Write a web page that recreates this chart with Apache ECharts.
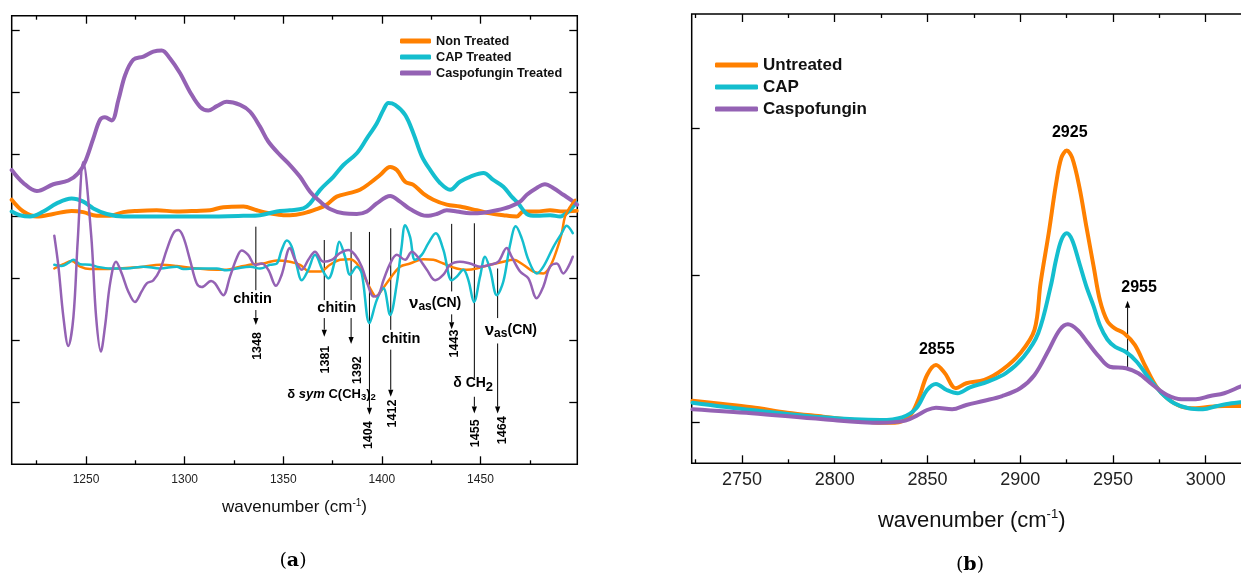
<!DOCTYPE html>
<html><head><meta charset="utf-8">
<script src="https://cdn.jsdelivr.net/npm/echarts@6/dist/echarts.min.js"></script>
<style>html,body{margin:0;padding:0;background:#fff}#c{width:1241px;height:576px}</style>
</head><body><div id="c"></div>
<script>
// ---------- Panel (a) data : wavenumber (cm-1) / absorbance (a.u.) ----------
const aTicksMajor = [1250, 1300, 1350, 1400, 1450];
const aTicksMinor = [1225, 1275, 1325, 1375, 1425, 1475];
const aYTicks = [1, 2, 3, 4, 5, 6, 7];

const aNonTreatedWn = [1212.3,1218.2,1225,1233.4,1242.7,1248.6,1255.4,1262.2,1268.9,1275.7,1285.8,1296,1306.1,1312.9,1319.6,1329.8,1336.6,1343.3,1350.1,1353.4,1360.2,1367,1372,1377.1,1383.9,1388.9,1394,1399.1,1404.2,1407.6,1411.8,1416,1421,1426.1,1432.9,1439.6,1448.1,1454.9,1461.6,1468.4,1471.7,1478.5,1485.3,1492,1498.8];
const aNonTreatedVal = [4.27,4.08,4.00,4.04,4.09,4.07,4.01,4.01,4.07,4.09,4.10,4.08,4.09,4.10,4.15,4.16,4.10,4.05,4.02,4.02,4.05,4.12,4.19,4.32,4.38,4.43,4.54,4.67,4.80,4.75,4.56,4.51,4.37,4.27,4.19,4.16,4.10,4.05,4.02,4.00,4.08,4.08,4.10,4.08,4.09];

const aCapWn = [1212.3,1216.5,1221.6,1228.3,1235.1,1242.7,1248.6,1253.7,1260.5,1268.9,1290,1310,1329.8,1338.2,1346.7,1353.4,1360.2,1363.6,1368.7,1375.4,1380.5,1387.3,1392.4,1397.4,1400.8,1403.3,1406.7,1411.8,1416,1420.3,1424.5,1429.5,1434.6,1439.6,1444.7,1451.5,1456.5,1461.6,1465.8,1469.2,1473.5,1478.5,1485.3,1490.4,1494.6,1498.5];
const aCapVal = [4.08,4.02,4.00,4.08,4.21,4.29,4.24,4.13,4.04,4.00,4.00,4.00,4.01,4.02,4.08,4.10,4.13,4.21,4.43,4.64,4.83,5.02,5.26,5.50,5.72,5.83,5.80,5.64,5.34,4.97,4.75,4.54,4.43,4.56,4.64,4.70,4.59,4.48,4.32,4.21,4.04,4.01,4.02,4.00,4.08,4.22];

const aCaspoWn = [1212.3,1218.2,1225,1233.4,1241,1246.1,1249.5,1253.7,1257.1,1259.6,1263,1266.4,1269.8,1274,1279.1,1284.1,1288.4,1292.6,1297.7,1302.7,1307.8,1312,1316.3,1321.3,1328.1,1333.2,1338.2,1342.4,1348.4,1353.4,1358.5,1363.6,1368.7,1373.7,1380.5,1387.3,1392.4,1397.4,1404.2,1409.2,1414.3,1422.8,1427.8,1432.9,1438,1444.7,1451.5,1458.3,1465,1470.1,1473.5,1478.5,1482.7,1486.9,1492,1496.2,1499];
const aCaspoVal = [4.75,4.54,4.41,4.52,4.58,4.70,4.88,5.26,5.56,5.60,5.55,5.88,6.28,6.53,6.58,6.66,6.68,6.55,6.31,6.01,5.77,5.71,5.78,5.85,5.80,5.69,5.45,5.21,4.99,4.83,4.64,4.40,4.24,4.12,4.05,4.04,4.08,4.21,4.33,4.24,4.12,4.01,4.04,4.10,4.08,4.05,4.06,4.10,4.16,4.24,4.35,4.46,4.52,4.46,4.35,4.26,4.19];

// second-derivative traces (lower group)
const aNonTreatedD2Wn = [1233.9,1238.5,1242.7,1247,1252,1258.8,1265.6,1279.1,1287.5,1296,1306.1,1316.3,1321.3,1328.1,1334.8,1339.9,1346.7,1353.4,1358.5,1363.6,1368.7,1373.7,1378.8,1383.9,1387.3,1390.6,1394.9,1397,1399.9,1404.2,1409.2,1414.3,1421,1426.1,1431.2,1438,1443,1448.1,1454.9,1461.6,1466.7,1471.7,1476.8,1481.9,1485.3,1488.7,1491.2,1492.9,1495.5,1498];
const aNonTreatedD2Val = [3.16,3.23,3.28,3.19,3.15,3.15,3.16,3.19,3.22,3.20,3.16,3.14,3.14,3.19,3.23,3.24,3.29,3.27,3.22,3.11,3.11,3.22,3.30,3.31,3.24,3.06,2.79,2.71,2.81,3.00,3.19,3.24,3.31,3.30,3.24,3.16,3.14,3.16,3.22,3.27,3.30,3.22,3.11,3.08,3.19,3.46,3.73,4.00,4.16,4.27];

const aCapD2Wn = [1233.9,1237.7,1241,1243.6,1247,1252,1255.4,1262.2,1270.6,1279.1,1287.5,1296,1299.3,1306.1,1316.3,1321.3,1326.4,1333.2,1338.2,1343.3,1346.7,1349.2,1351.8,1354.3,1356.5,1359.4,1362.7,1366.1,1370.3,1372.9,1376.3,1378.4,1381.3,1383.9,1387.3,1389.8,1393.7,1397.4,1400.8,1404.2,1407.6,1410,1411.8,1414.3,1416.8,1420.2,1423.6,1427.3,1431.2,1435.4,1438,1441.3,1443.9,1446.7,1449.8,1452.3,1454.9,1458.3,1461.6,1465,1467.9,1470.9,1474.3,1478.5,1481.9,1487,1491.2,1493.7,1496.8];
const aCapD2Val = [3.22,3.20,3.25,3.30,3.23,3.22,3.19,3.16,3.16,3.19,3.16,3.19,3.15,3.16,3.16,3.13,3.16,3.19,3.16,3.22,3.24,3.46,3.61,3.51,3.25,2.97,3.14,3.38,3.11,3.00,3.30,3.59,3.35,3.06,3.19,3.08,2.28,2.65,2.84,2.41,2.92,3.51,3.86,3.67,3.30,3.38,3.57,3.73,3.46,2.97,3.03,3.14,2.97,2.62,3.03,3.35,3.14,2.73,2.95,3.54,3.84,3.65,3.30,3.08,3.19,3.51,3.73,3.85,3.73];

const aCaspoD2Wn = [1233.9,1236,1238.5,1241,1243.6,1245.8,1248.6,1252.6,1255.1,1257.5,1259.6,1262.2,1265.2,1268.1,1271.4,1274.8,1278.2,1280.8,1284.1,1287.5,1290.9,1294.3,1296.8,1299.3,1302.7,1306.1,1308.7,1313.4,1315.4,1319.6,1323,1326.4,1328.9,1332.2,1335.7,1339.1,1342.4,1346.3,1349.2,1353.4,1356,1359.4,1362.7,1366.1,1370.3,1374.6,1378.8,1383,1386.4,1389.8,1393.2,1395.7,1398.2,1400.8,1404.2,1407.6,1411.8,1415.2,1418.6,1422.8,1427,1431.2,1434.6,1439.6,1444.7,1449.8,1454.9,1459.1,1463.3,1465.8,1470.1,1474.3,1478.5,1481.9,1485.3,1488.7,1492,1494.6,1496.8];
const aCaspoD2Val = [3.69,3.19,2.38,1.91,2.38,3.62,4.88,3.70,2.38,1.82,2.22,2.92,3.27,3.08,2.79,2.62,2.79,2.92,2.97,3.14,3.46,3.73,3.78,3.67,3.30,2.92,2.86,2.96,2.92,2.73,3.03,3.33,3.45,3.38,3.22,3.24,3.14,2.88,3.06,3.49,3.30,3.14,3.30,3.43,3.27,3.30,3.41,3.46,3.38,3.19,2.87,2.71,2.73,2.97,3.24,3.38,3.30,3.43,3.33,3.14,2.97,3.06,3.22,3.27,3.24,3.19,3.22,3.27,3.49,3.35,3.11,3.00,2.68,2.87,3.19,3.24,3.08,3.19,3.35];

// annotation content for panel (a): [wavenumber, value from, value to]
const aGuideLines = [[1336.1,3.835,2.81],[1370.8,3.62,2.65],[1384.4,3.75,2.65],[1404.5,3.81,2.17],[1435.4,3.88,2.79],[1446.9,3.89,1.39],[1458.7,3.16,2.36]];
const aArrows = [[1336.1,2.49,2.25],[1370.8,2.36,2.06],[1384.4,2.36,1.94],[1393.7,3.75,0.80],[1404.5,1.85,1.09],[1435.4,2.42,2.18],[1446.9,1.09,0.82],[1458.7,1.95,0.82]];
const aBandLabels = [['1348',1336.9,1.91],['1381',1371.4,1.69],['1392',1387.9,1.52],['1404',1393.3,0.47],['1412',1405.4,0.82],['1443',1436.8,1.95],['1455',1447.5,0.50],['1464',1461.3,0.55]];
const aAssignLabels = [['chitin',1334.4,2.67],['chitin',1377.1,2.53],['chitin',1409.7,2.02],['nuCN',1427,2.60],['nuCN',1465.4,2.16],['dCH2',1446.3,1.31],['dsym',1374.5,1.13]];

// ---------- Panel (b) data ----------
const bTicksMajor = [2750, 2800, 2850, 2900, 2950, 3000];
const bTicksMinor = [2725, 2775, 2825, 2875, 2925, 2975, 3025];
const bYTicks = [0, 1, 2];

const bUntreatedWn = [2723.3,2735.9,2755.2,2774.5,2793.8,2813.1,2824.7,2832.4,2840.1,2845,2849.8,2854.6,2859.4,2865.3,2871,2880.7,2890.3,2900,2907.7,2911,2915.4,2919.3,2922.2,2925.1,2928,2931.9,2935.7,2939.6,2943,2947,2951,2956,2961.8,2967.6,2973.4,2979.2,2986.9,2994.6,3002.4,3010,3017.8,3024];
const bUntreatedVal = [0.149,0.132,0.105,0.068,0.041,0.014,0.0,0.0,0.041,0.154,0.324,0.392,0.336,0.234,0.268,0.29,0.358,0.471,0.63,0.95,1.29,1.62,1.80,1.848,1.80,1.60,1.33,1.06,0.83,0.69,0.64,0.607,0.528,0.38,0.245,0.166,0.109,0.098,0.109,0.113,0.113,0.115];

const bCapWn = [2723.3,2755.2,2793.8,2824.7,2836.3,2844,2849.8,2854.6,2860.4,2866.2,2872.9,2882.6,2892.3,2901.9,2909.7,2916.4,2919.3,2922.2,2925.1,2928,2931.9,2935.7,2939.6,2943,2947,2951.2,2957,2962.8,2969.5,2976.3,2983,2990.7,2998.5,3006.2,3013.9,3018.7,3024];
const bCapVal = [0.136,0.086,0.036,0.018,0.036,0.098,0.222,0.263,0.222,0.2,0.24,0.279,0.336,0.448,0.607,0.924,1.105,1.241,1.287,1.241,1.083,0.924,0.79,0.66,0.565,0.515,0.48,0.414,0.301,0.2,0.132,0.098,0.091,0.113,0.132,0.139,0.145];

const bCaspoWn = [2723.3,2755.2,2793.8,2824.7,2838.2,2844,2849.8,2854.6,2863.3,2871,2880.7,2890.3,2900,2907.7,2915.4,2921.3,2925.7,2930.9,2936.7,2942.5,2948.3,2957,2963.7,2971.5,2979.2,2986.9,2994.6,3002.4,3010,3018.7,3024];
const bCaspoVal = [0.091,0.064,0.023,0.0,0.014,0.046,0.086,0.102,0.091,0.12,0.149,0.181,0.234,0.324,0.494,0.63,0.668,0.63,0.539,0.448,0.38,0.37,0.336,0.256,0.188,0.159,0.159,0.181,0.2,0.245,0.27];

const bPeakLabels = [['2925',2926.7,1.973],['2855',2855,0.499],['2955',2964.1,0.92]];
const bArrows = [[2957.9,0.37,0.829]];

// ---------- chart ----------
const FONT = '"Liberation Sans", Arial, sans-serif';
const C_OR = '#FF8000', C_CY = '#14BECE', C_PU = '#9462B4';
const zip = (xs, ys) => xs.map((x, i) => [x, ys[i]]);
const chart = echarts.init(document.getElementById('c'), null, {renderer: 'canvas'});

function xAx(grid, pos, vals, len, labels, min, max, fs, lm) {
  return {
    type: 'value', gridIndex: grid, position: pos, min: min, max: max,
    axisLine: {show: false, onZero: false},
    splitLine: {show: false},
    axisTick: {show: true, inside: true, length: len, customValues: vals, lineStyle: {color: '#000', width: 1.3}},
    axisLabel: labels ? {show: true, customValues: vals, fontFamily: FONT, fontSize: fs, color: '#222', margin: lm,
      formatter: (v) => String(Math.round(v))} : {show: false}
  };
}
function yAx(grid, pos, vals, min, max) {
  return {
    type: 'value', gridIndex: grid, position: pos, min: min, max: max,
    axisLine: {show: false, onZero: false}, splitLine: {show: false},
    axisTick: {show: true, inside: true, length: 8, customValues: vals, lineStyle: {color: '#000', width: 1.3}},
    axisLabel: {show: false}
  };
}
const aMin = 1212.3, aMax = 1499.1, bMin = 2722.9, bMax = 3024.8;
const xAxes = [
  xAx(0, 'bottom', aTicksMajor, 8, true, aMin, aMax, 12, 9),
  xAx(0, 'bottom', aTicksMinor, 4, false, aMin, aMax),
  xAx(0, 'top', aTicksMajor, 8, false, aMin, aMax),
  xAx(0, 'top', aTicksMinor, 4, false, aMin, aMax),
  xAx(1, 'bottom', bTicksMajor, 8, true, bMin, bMax, 18, 8),
  xAx(1, 'bottom', bTicksMinor, 4, false, bMin, bMax),
  xAx(1, 'top', bTicksMajor, 8, false, bMin, bMax),
  xAx(1, 'top', bTicksMinor, 4, false, bMin, bMax)
];
const titleRich = (fs) => ({
  a: {fontFamily: FONT, fontSize: fs, color: '#111'},
  s: {fontFamily: FONT, fontSize: Math.round(fs * 0.6), color: '#111', padding: [0, 0, Math.round(fs * 0.55), 0]}
});
xAxes[0].name = '{a|wavenumber (cm}{s|-1}{a|)}';
xAxes[0].nameLocation = 'middle'; xAxes[0].nameGap = 34;
xAxes[0].nameTextStyle = {rich: titleRich(17)};
xAxes[4].name = '{a|wavenumber (cm}{s|-1}{a|)}';
xAxes[4].nameLocation = 'middle'; xAxes[4].nameGap = 45;
xAxes[4].nameTextStyle = {rich: titleRich(22)};

const yAxes = [
  yAx(0, 'left', aYTicks, 0, 7.24),
  yAx(0, 'right', aYTicks, 0, 7.24),
  yAx(1, 'left', bYTicks, -0.276, 2.776)
];

function line(name, data, color, width, xi, yi) {
  return {type: 'line', name: name, data: data, xAxisIndex: xi, yAxisIndex: yi,
    showSymbol: false, symbol: 'none', smooth: 0.35, color: color,
    lineStyle: {color: color, width: width, cap: 'round', join: 'round'}, silent: true, animation: false};
}
const series = [
  line('Non Treated', zip(aNonTreatedWn, aNonTreatedVal), C_OR, 4, 0, 0),
  line('CAP Treated', zip(aCapWn, aCapVal), C_CY, 4, 0, 0),
  line('Caspofungin Treated', zip(aCaspoWn, aCaspoVal), C_PU, 4, 0, 0),
  line('Non Treated 2nd der.', zip(aNonTreatedD2Wn, aNonTreatedD2Val), C_OR, 2.5, 0, 0),
  line('CAP Treated 2nd der.', zip(aCapD2Wn, aCapD2Val), C_CY, 2.5, 0, 0),
  line('Caspofungin Treated 2nd der.', zip(aCaspoD2Wn, aCaspoD2Val), C_PU, 2.5, 0, 0),
  line('Untreated', zip(bUntreatedWn, bUntreatedVal), C_OR, 4, 4, 2),
  line('CAP', zip(bCapWn, bCapVal), C_CY, 4, 4, 2),
  line('Caspofungin', zip(bCaspoWn, bCaspoVal), C_PU, 4, 4, 2)
];

chart.setOption({
  animation: false,
  backgroundColor: '#fff',
  grid: [
    {left: 11.7, top: 15.7, width: 565.6, height: 448.6, show: true, borderColor: '#000', borderWidth: 1.5, backgroundColor: 'transparent', containLabel: false, outerBoundsMode: 'none'},
    {left: 691.7, top: 14, width: 560, height: 449.3, show: true, borderColor: '#000', borderWidth: 1.5, backgroundColor: 'transparent', containLabel: false, outerBoundsMode: 'none'}
  ],
  xAxis: xAxes,
  yAxis: yAxes,
  legend: [
    {data: ['Non Treated', 'CAP Treated', 'Caspofungin Treated'], orient: 'vertical', left: 395, top: 29,
      itemWidth: 31, itemHeight: 5, itemGap: 2, icon: 'roundRect', selectedMode: false,
      textStyle: {fontFamily: FONT, fontSize: 12.7, fontWeight: 'bold', color: '#111', lineHeight: 14}},
    {data: ['Untreated', 'CAP', 'Caspofungin'], orient: 'vertical', left: 710, top: 50,
      itemWidth: 43, itemHeight: 5, itemGap: 2, icon: 'roundRect', selectedMode: false,
      textStyle: {fontFamily: FONT, fontSize: 17, fontWeight: 'bold', color: '#111', lineHeight: 20}}
  ],
  series: series
});

// ---------- annotations, positioned through the axes ----------
const FA = {xAxisIndex: 0, yAxisIndex: 0};
const FB = {xAxisIndex: 4, yAxisIndex: 2};
const els = [];
function seg(f, wn, v1, v2, head) {
  const p1 = chart.convertToPixel(f, [wn, v1]);
  const p2 = chart.convertToPixel(f, [wn, v2]);
  const dir = p2[1] > p1[1] ? 1 : -1;
  const hl = 7, hw = 2.6;
  const endY = head ? p2[1] - dir * hl : p2[1];
  els.push({type: 'line', silent: true, shape: {x1: p1[0], y1: p1[1], x2: p2[0], y2: endY}, style: {stroke: '#000', lineWidth: 1}});
  if (head) {
    els.push({type: 'polygon', silent: true, shape: {points: [[p2[0], p2[1]], [p2[0] - hw, p2[1] - dir * hl], [p2[0] + hw, p2[1] - dir * hl]]}, style: {fill: '#000'}});
  }
}
function txt(f, t, wn, v, opts) {
  const p = chart.convertToPixel(f, [wn, v]);
  els.push(Object.assign({type: 'text', silent: true, x: p[0], y: p[1], z: 10,
    style: Object.assign({text: t, align: 'center', verticalAlign: 'middle', fill: '#000', fontFamily: FONT, fontWeight: 'bold'}, opts.style || {})}, opts.el || {}));
}
aGuideLines.forEach(d => seg(FA, d[0], d[1], d[2], false));
aArrows.forEach(d => seg(FA, d[0], d[1], d[2], true));
aBandLabels.forEach(d => txt(FA, d[0], d[1], d[2], {el: {rotation: Math.PI / 2}, style: {fontSize: 12.5}}));
const richB = (fs) => ({fontFamily: FONT, fontWeight: 'bold', fontSize: fs, fill: '#000'});
aAssignLabels.forEach(d => {
  if (d[0] === 'chitin') {
    txt(FA, 'chitin', d[1], d[2], {style: {fontSize: 14.5}});
  } else if (d[0] === 'nuCN') {
    txt(FA, '{n|ν}{s|as}{c|(CN)}', d[1], d[2], {style: {rich: {
      n: richB(17), s: Object.assign(richB(12), {padding: [7, 0, 0, 0]}), c: richB(14)}}});
  } else if (d[0] === 'dCH2') {
    txt(FA, '{c|δ CH}{s|2}', d[1], d[2], {style: {rich: {
      c: richB(14), s: Object.assign(richB(13), {padding: [8, 0, 0, 0]})}}});
  } else if (d[0] === 'dsym') {
    txt(FA, '{c|δ }{i|sym}{c| C(CH}{s|3}{c|)}{s|2}', d[1], d[2], {style: {rich: {
      c: richB(13), i: Object.assign(richB(13), {fontStyle: 'italic'}), s: Object.assign(richB(9.5), {padding: [7, 0, 0, 0]})}}});
  }
});
bPeakLabels.forEach(d => txt(FB, d[0], d[1], d[2], {style: {fontSize: 16}}));
bArrows.forEach(d => seg(FB, d[0], d[1], d[2], true));

// panel captions
const capRich = {r: {fontFamily: '"DejaVu Serif", "Liberation Serif", serif', fontSize: 19, fill: '#000'},
                 b: {fontFamily: '"DejaVu Serif", "Liberation Serif", serif', fontSize: 19, fontWeight: 'bold', fill: '#000'}};
els.push({type: 'text', silent: true, x: 293, y: 561, style: {text: '{r|(}{b|a}{r|)}', rich: capRich, align: 'center', verticalAlign: 'middle'}});
els.push({type: 'text', silent: true, x: 970, y: 565, style: {text: '{r|(}{b|b}{r|)}', rich: capRich, align: 'center', verticalAlign: 'middle'}});

chart.setOption({graphic: {elements: els}});
</script></body></html>
